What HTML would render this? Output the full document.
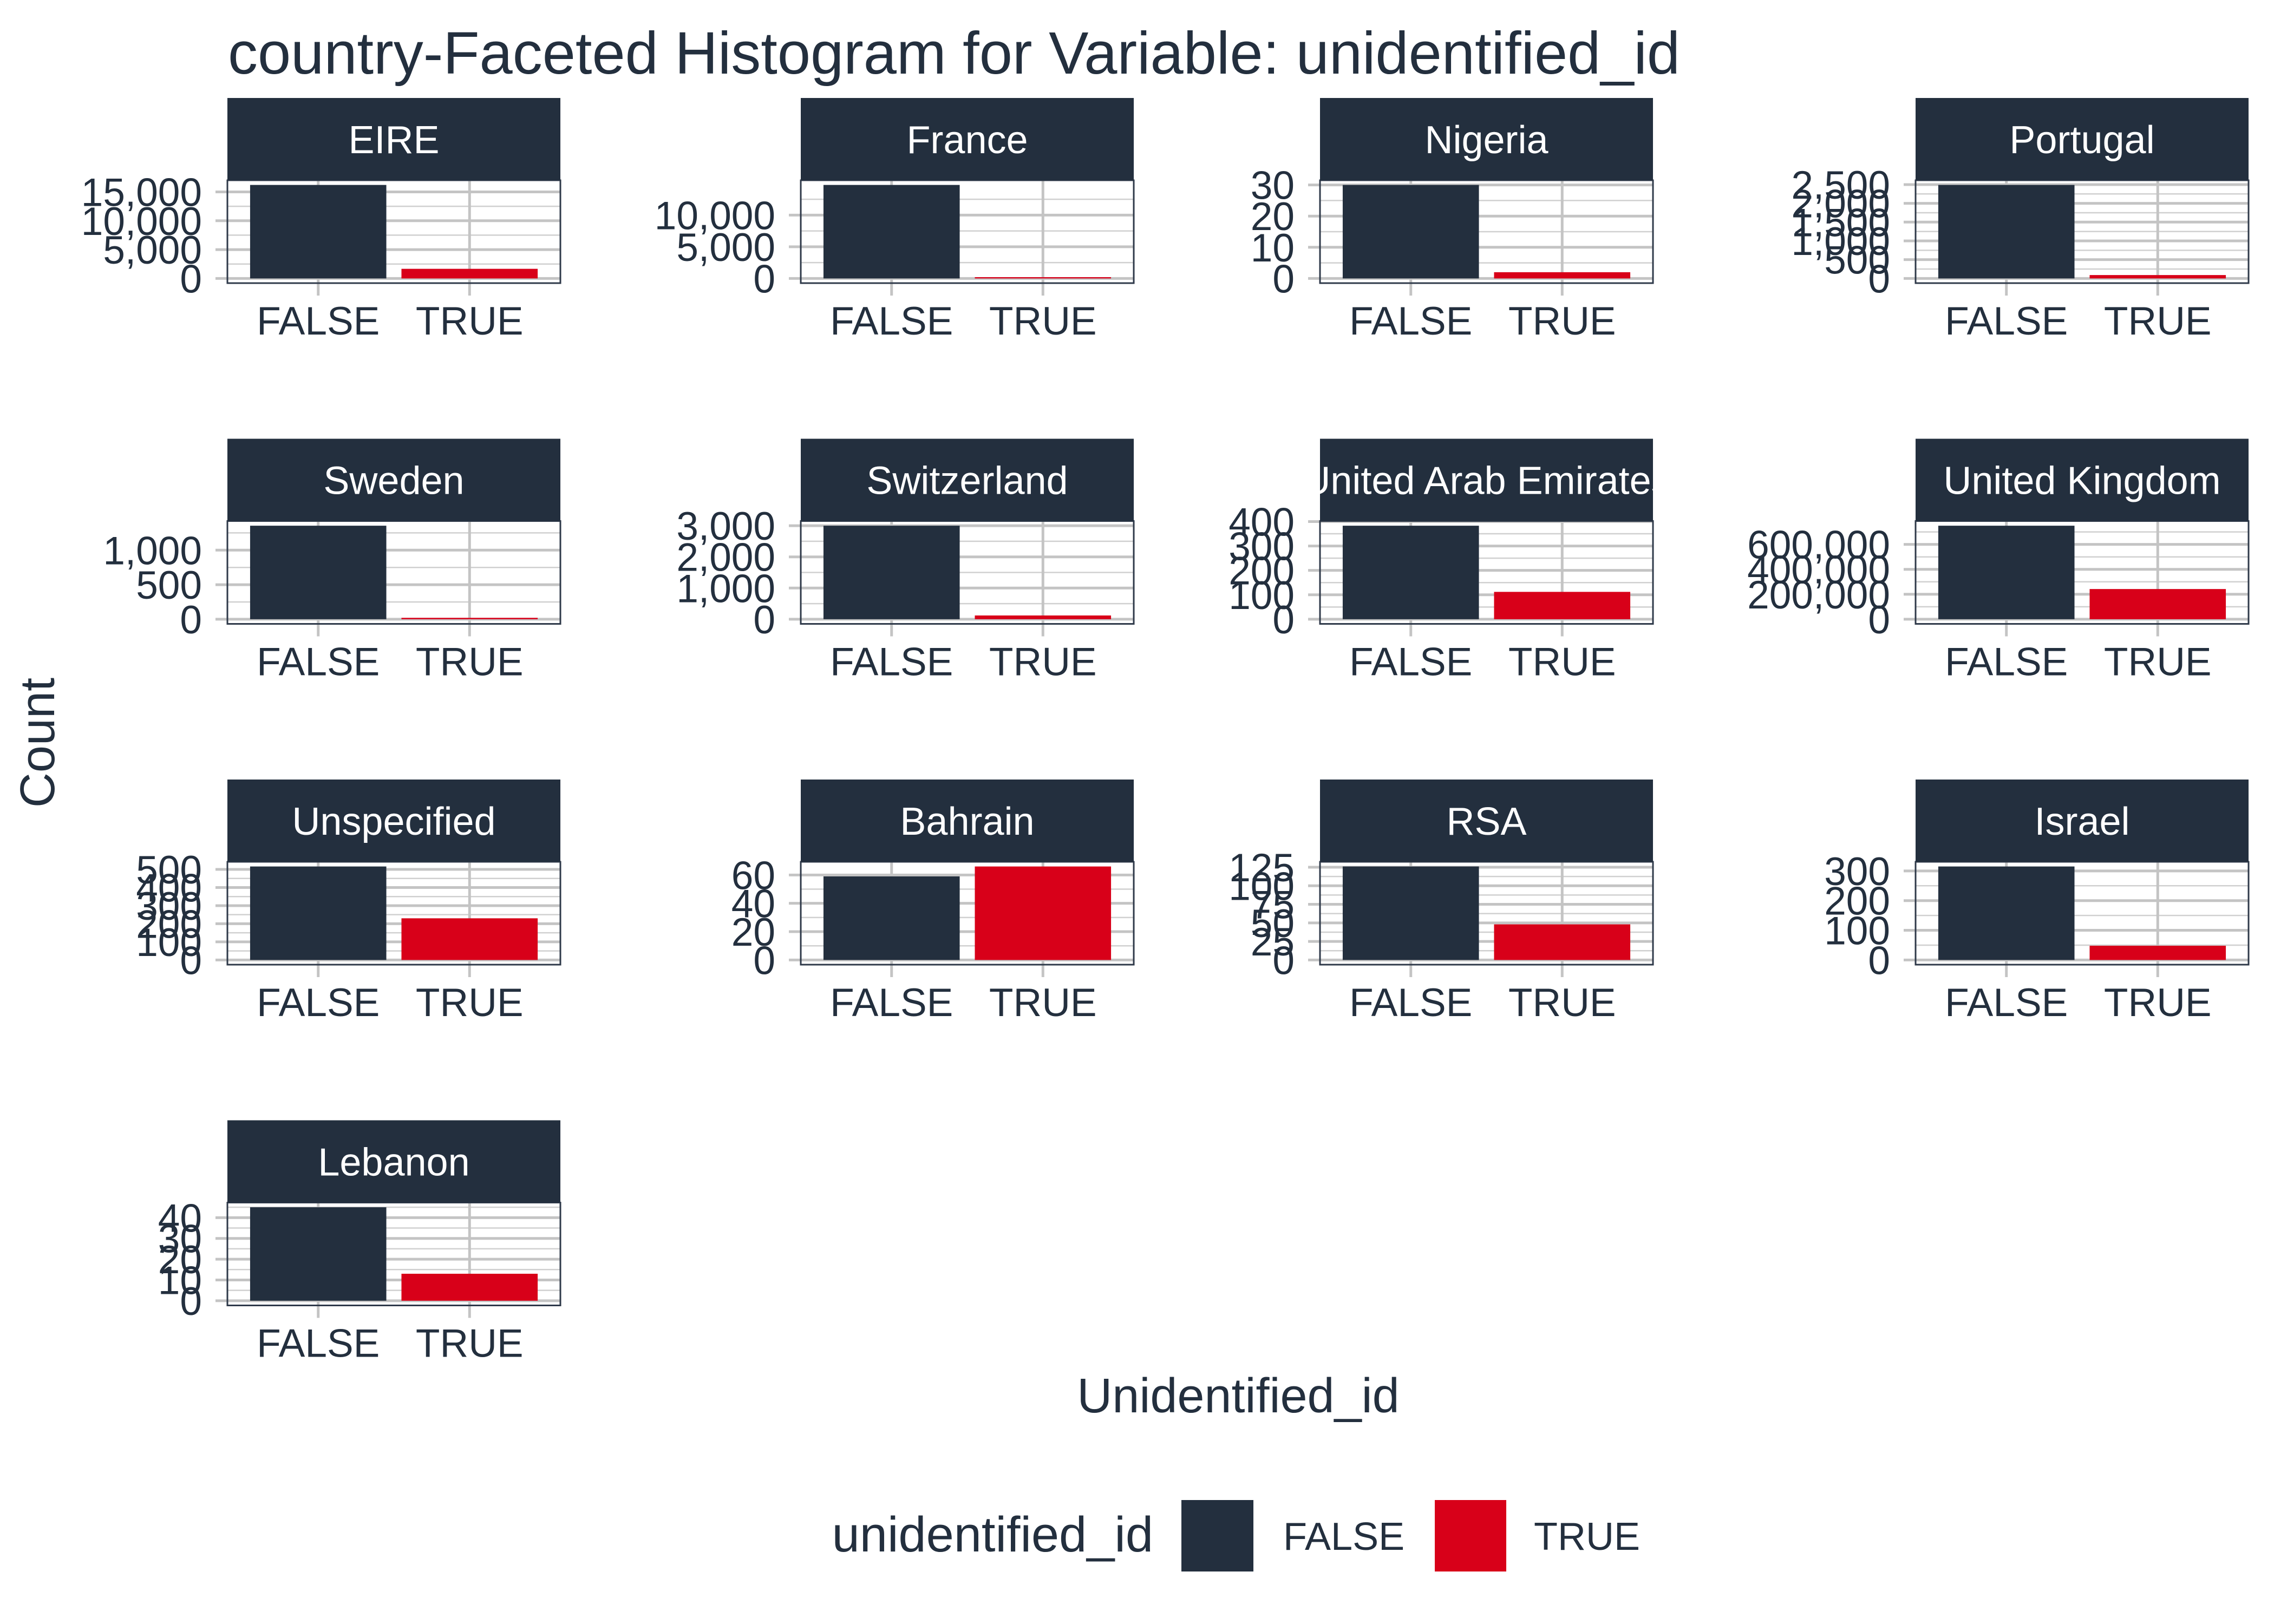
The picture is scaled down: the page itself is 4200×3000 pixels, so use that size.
<!DOCTYPE html>
<html><head><meta charset="utf-8"><style>
html,body{margin:0;padding:0;background:#fff;}
svg{display:block;font-family:"Liberation Sans",sans-serif;}
</style></head><body>
<svg id="chart" width="4200" height="3000" viewBox="0 0 4200 3000">
<text x="421" y="136" font-size="110" fill="#232f3e">country-Faceted Histogram for Variable: unidentified_id</text>
<text transform="translate(100,1372) rotate(-90)" text-anchor="middle" font-size="90" fill="#232f3e">Count</text>
<text x="2287" y="2609" text-anchor="middle" font-size="90" fill="#232f3e">Unidentified_id</text>
<g>
<text x="2130" y="2866" text-anchor="end" font-size="92" fill="#232f3e">unidentified_id</text>
<rect x="2182" y="2771" width="133" height="132" fill="#232f3e"/>
<text x="2370" y="2863" font-size="72" fill="#232f3e">FALSE</text>
<rect x="2650" y="2771" width="132" height="132" fill="#d80019"/>
<text x="2833" y="2863" font-size="72" fill="#232f3e">TRUE</text>
</g>
</svg>
<script>
const countries = ["EIRE","France","Nigeria","Portugal","Sweden","Switzerland","United Arab Emirates","United Kingdom","Unspecified","Bahrain","RSA","Israel","Lebanon"];
const categories = ["FALSE","TRUE"];
const falseCounts = [16204,14770,30,2490,1354,3000,383,750000,516,59,126,315,45];
const trueCounts = [1667,200,2,90,20,120,112,242000,230,66,48,48,13];
const tickValues = [
 [0,5000,10000,15000],[0,5000,10000],[0,10,20,30],[0,500,1000,1500,2000,2500],
 [0,500,1000],[0,1000,2000,3000],[0,100,200,300,400],[0,200000,400000,600000],
 [0,100,200,300,400,500],[0,20,40,60],[0,25,50,75,100,125],[0,100,200,300],[0,10,20,30,40]
];
const NS="http://www.w3.org/2000/svg";
const svg=document.getElementById('chart');
const colLeft=[420,1479,2438,3538];
const PW=615, STRIP=152, PH=190, ROWSTEP=629.5, TOP0=181;
const colors=["#232f3e","#d80019"];
function mk(tag,attrs,parent){const e=document.createElementNS(NS,tag);for(const k in attrs)e.setAttribute(k,attrs[k]);parent.appendChild(e);return e;}
function fmt(v){return v.toLocaleString('en-US');}
countries.forEach((c,i)=>{
  const row=Math.floor(i/4), col=i%4;
  const x0=colLeft[col], sTop=TOP0+row*ROWSTEP, pTop=sTop+STRIP, pBot=pTop+PH;
  const g=mk('g',{},svg);
  
  
  const vals=[falseCounts[i],trueCounts[i]];
  const M=Math.max(...vals);
  const lo=-0.05*M, hi=1.05*M;
  const y=v=>pBot-(v-lo)/(hi-lo)*PH;
  const x=k=>x0+(k+1-0.4)/2.2*PW;
  const bw=0.9/2.2*PW;
  const t=tickValues[i], step=t[1]-t[0];
  for(let m=t[0]-step/2;m<=hi;m+=step){ if(m<lo) continue;
    const l=mk('line',{x1:x0,x2:x0+PW,y1:y(m),y2:y(m),stroke:"#d0d0d0","stroke-width":2.5},g);
    
    
  }
  t.forEach(v=>{
    const l=mk('line',{x1:x0-22,x2:x0+PW,y1:y(v),y2:y(v),stroke:"#c4c4c4","stroke-width":5},g);
    
    
    const tx=mk('text',{x:x0-47,y:y(v)+26,"text-anchor":"end","font-size":73,fill:"#232f3e"},g);
    tx.textContent=fmt(v);
    
    
  });
  categories.forEach((cat,k)=>{
    const l=mk('line',{x1:x(k),x2:x(k),y1:pTop,y2:pBot+23,stroke:"#c4c4c4","stroke-width":5},g);
    
    
    const tx=mk('text',{x:x(k),y:pBot+95,"text-anchor":"middle","font-size":73,fill:"#232f3e"},g);
    tx.textContent=cat;
    
    
  });
  vals.forEach((v,k)=>{
    const r=mk('rect',{x:x(k)-bw/2,y:y(v),width:bw,height:y(0)-y(v),fill:colors[k]},g);
    
    
  });
  const b=mk('rect',{x:x0,y:pTop,width:PW,height:PH,fill:"none",stroke:"#2f3a4a","stroke-width":3},g);
  
  
  const s=mk('rect',{x:x0,y:sTop,width:PW,height:STRIP,fill:"#232f3e"},g);
  
  
  const cp=mk('clipPath',{id:'cp'+i},g);
  mk('rect',{x:x0,y:sTop,width:PW,height:STRIP},cp);
  const st=mk('text',{x:x0+PW/2,y:sTop+102,"text-anchor":"middle","font-size":72,fill:"#ffffff","clip-path":"url(#cp"+i+")"},g);
  st.textContent=c;
  
  
});
</script>
</body></html>
